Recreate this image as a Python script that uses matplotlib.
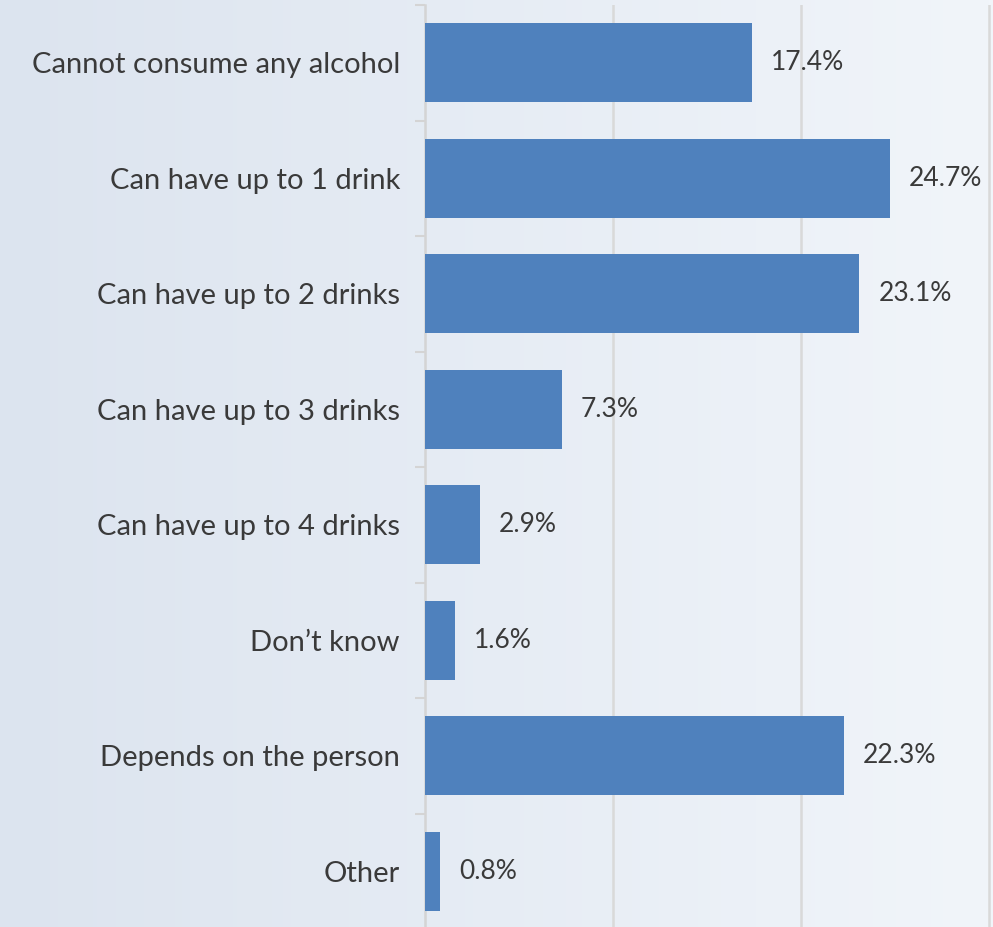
import numpy as np
import matplotlib
matplotlib.use("Agg")
from matplotlib import pyplot as plt
from matplotlib.colors import LinearSegmentedColormap

categories = [
    "Cannot consume any alcohol",
    "Can have up to 1 drink",
    "Can have up to 2 drinks",
    "Can have up to 3 drinks",
    "Can have up to 4 drinks",
    "Don\u2019t know",
    "Depends on the person",
    "Other",
]
values = [17.4, 24.7, 23.1, 7.3, 2.9, 1.6, 22.3, 0.8]

plt.rcParams["font.family"] = ["Lato", "DejaVu Sans"]

fig = plt.figure(figsize=(9.93, 9.27), dpi=100)

# soft left-to-right background gradient
bg = fig.add_axes([0, 0, 1, 1], zorder=-1)
grad = np.linspace(0, 1, 256).reshape(1, -1)
cmap = LinearSegmentedColormap.from_list("bg", ["#dce4ef", "#f1f5fa"])
bg.imshow(grad, aspect="auto", cmap=cmap, extent=[0, 1, 0, 1])
bg.set_axis_off()

ax = fig.add_axes([425 / 993, -2 / 927, 568 / 993, 924 / 927])
ax.patch.set_alpha(0)

y = np.arange(len(categories))
ax.barh(y, values, height=0.68, color="#4f81bd", zorder=3)
for yi, v in zip(y, values):
    ax.text(v + 1.0, yi, f"{v}%", va="center", ha="left",
            fontsize=19, color="#3a3a3a", zorder=4)

ax.set_ylim(len(categories) - 0.5, -0.5)
ax.set_xlim(0, 30.2)
ax.set_yticks(y)
ax.set_yticklabels(categories, fontsize=21, color="#3a3a3a")
ax.tick_params(axis="y", length=0, pad=18)
ax.set_yticks(np.arange(len(categories) + 1) - 0.5, minor=True)
ax.tick_params(axis="y", which="minor", length=7, width=1.5, color="#d4d4d4")
ax.set_xticks([10, 20, 30])
ax.tick_params(axis="x", length=0, labelbottom=False)
ax.grid(axis="x", color="#d9d9d9", lw=1.8, zorder=0)

for side in ["top", "right", "bottom"]:
    ax.spines[side].set_visible(False)
ax.spines["left"].set_color("#d4d4d4")
ax.spines["left"].set_linewidth(1.8)

fig.savefig("out.png", dpi=100)
